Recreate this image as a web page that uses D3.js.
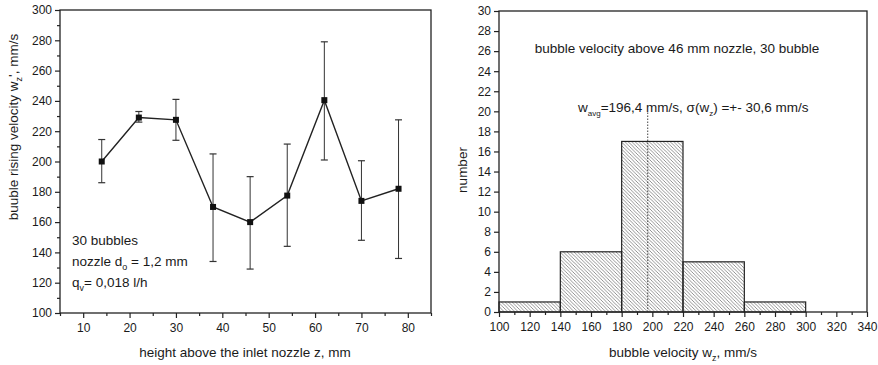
<!DOCTYPE html>
<html><head><meta charset="utf-8">
<script src="https://cdn.jsdelivr.net/npm/d3@7"></script>
<style>
body{margin:0;background:#fff;}
svg{display:block;font-family:"Liberation Sans",Arial,sans-serif;}
text{fill:#1a1a1a;}
</style></head>
<body><svg id="c" width="878" height="365"></svg>
<script>
// Left chart data
const heights = [14, 22, 30, 38, 46, 54, 62, 70, 78];
const velocity = [200, 229, 227.5, 170, 160, 177.5, 240.5, 174, 182];
const errUpper = [214.5, 233, 241, 205, 190, 211.5, 279, 200.5, 227.5];
const errLower = [186, 226, 214, 134, 129, 144, 201, 148, 136];
const leftXTicks = [10, 20, 30, 40, 50, 60, 70, 80];
const leftYTicks = [100, 120, 140, 160, 180, 200, 220, 240, 260, 280, 300];

// Right chart data
const binStart = [100, 140, 180, 220, 260];
const binEnd = [140, 180, 220, 260, 300];
const counts = [1, 6, 17, 5, 1];
const wAvg = 197;
const rightXTicks = [100, 120, 140, 160, 180, 200, 220, 240, 260, 280, 300, 320, 340];
const rightYTicks = [0, 2, 4, 6, 8, 10, 12, 14, 16, 18, 20, 22, 24, 26, 28, 30];

const svg = d3.select("#c");
const ink = "#222";

// defs: hatch
const defs = svg.append("defs");
const pat = defs.append("pattern").attr("id","hatch").attr("patternUnits","userSpaceOnUse")
  .attr("width",3.5).attr("height",3.5);
pat.append("path").attr("d","M-1,-1 L4.5,4.5 M-1,2.5 L1,4.5 M2.5,-1 L4.5,1")
  .attr("stroke","#666").attr("stroke-width",0.7);

function frame(g, x0, x1, y0, y1){
  g.append("rect").attr("x",x0).attr("y",y1).attr("width",x1-x0).attr("height",y0-y1)
   .attr("fill","none").attr("stroke",ink).attr("stroke-width",1.3);
}
function styleAxis(g){
  g.select(".domain").remove();
  g.selectAll("line").attr("stroke",ink).attr("stroke-width",1.2);
  g.selectAll("text").attr("font-size",12).attr("fill","#1a1a1a").attr("font-family","Liberation Sans, Arial, sans-serif");
}

// ===== Left chart =====
const L = {x0:60, x1:431, y0:313, y1:10};
const xL = d3.scaleLinear().domain([5,85]).range([L.x0,L.x1]);
const yL = d3.scaleLinear().domain([100,300]).range([L.y0,L.y1]);
const gL = svg.append("g");

const axLx = d3.axisBottom(xL).tickValues(leftXTicks).tickSize(5).tickPadding(5);
const axLxm = d3.axisBottom(xL).tickValues(d3.range(5,86,5).filter(v=>v%10!==0)).tickSize(3).tickFormat("");
const axLy = d3.axisLeft(yL).tickValues(leftYTicks).tickSize(5).tickPadding(3);
const axLym = d3.axisLeft(yL).tickValues(d3.range(110,300,20)).tickSize(3).tickFormat("");
[ [axLx,`translate(0,${L.y0})`],[axLxm,`translate(0,${L.y0})`],[axLy,`translate(${L.x0},0)`],[axLym,`translate(${L.x0},0)`] ]
 .forEach(([a,t])=>{ styleAxis(gL.append("g").attr("transform",t).call(a)); });
frame(gL, L.x0, L.x1, L.y0, L.y1);

// error bars
heights.forEach((h,i)=>{
  const x = xL(h);
  gL.append("line").attr("x1",x).attr("x2",x).attr("y1",yL(errUpper[i])).attr("y2",yL(errLower[i])).attr("stroke","#333").attr("stroke-width",1);
  [errUpper[i], errLower[i]].forEach(v=>{
    gL.append("line").attr("x1",x-3.5).attr("x2",x+3.5).attr("y1",yL(v)).attr("y2",yL(v)).attr("stroke","#333").attr("stroke-width",1.2);
  });
});
gL.append("path").datum(heights.map((h,i)=>[h,velocity[i]]))
  .attr("d", d3.line().x(d=>xL(d[0])).y(d=>yL(d[1])))
  .attr("fill","none").attr("stroke",ink).attr("stroke-width",1.4);
gL.selectAll("rect.pt").data(heights).enter().append("rect").attr("class","pt")
  .attr("x",(d)=>xL(d)-3).attr("y",(d,i)=>yL(velocity[i])-3).attr("width",6).attr("height",6).attr("fill","#111");

// annotation
const ann = gL.append("g").attr("font-size",13.5);
ann.append("text").attr("x",72).attr("y",245).text("30 bubbles");
const t2 = ann.append("text").attr("x",72).attr("y",266);
t2.append("tspan").text("nozzle d");
t2.append("tspan").attr("font-size",9).attr("dy",4).text("o");
t2.append("tspan").attr("dy",-4).text(" = 1,2 mm");
const t3 = ann.append("text").attr("x",72).attr("y",287);
t3.append("tspan").text("q");
t3.append("tspan").attr("font-size",9).attr("dy",4).text("v");
t3.append("tspan").attr("dy",-4).text("= 0,018 l/h");

// axis titles
gL.append("text").attr("x",245).attr("y",357).attr("text-anchor","middle").attr("font-size",13.5)
  .text("height above the inlet nozzle z, mm");
const ylt = gL.append("text").attr("transform",`translate(18,127) rotate(-90)`).attr("text-anchor","middle").attr("font-size",13.5);
ylt.append("tspan").text("buuble rising velocity w");
ylt.append("tspan").attr("font-size",9).attr("dy",4).text("z");
ylt.append("tspan").attr("dy",-4).text("', mm/s");

// ===== Right chart =====
const R = {x0:499, x1:867, y0:312, y1:11};
const xR = d3.scaleLinear().domain([100,340]).range([R.x0,R.x1]);
const yR = d3.scaleLinear().domain([0,30]).range([R.y0,R.y1]);
const gR = svg.append("g");

gR.selectAll("rect.bar").data(counts).enter().append("rect").attr("class","bar")
  .attr("x",(d,i)=>xR(binStart[i])).attr("width",(d,i)=>xR(binEnd[i])-xR(binStart[i]))
  .attr("y",d=>yR(d)).attr("height",d=>yR(0)-yR(d))
  .attr("fill","url(#hatch)").attr("stroke",ink).attr("stroke-width",1.2);

gR.append("line").attr("x1",xR(wAvg)).attr("x2",xR(wAvg)).attr("y1",yR(0)).attr("y2",yR(20))
  .attr("stroke","#444").attr("stroke-width",1).attr("stroke-dasharray","1.5,1.5");

const axRx = d3.axisBottom(xR).tickValues(rightXTicks).tickSize(5).tickPadding(5);
const axRxm = d3.axisBottom(xR).tickValues(d3.range(110,340,20)).tickSize(3).tickFormat("");
const axRy = d3.axisLeft(yR).tickValues(rightYTicks).tickSize(5).tickPadding(3);
[ [axRx,`translate(0,${R.y0})`],[axRxm,`translate(0,${R.y0})`],[axRy,`translate(${R.x0},0)`] ]
 .forEach(([a,t])=>{ styleAxis(gR.append("g").attr("transform",t).call(a)); });
frame(gR, R.x0, R.x1, R.y0, R.y1);

gR.append("text").attr("x",677).attr("y",53).attr("text-anchor","middle").attr("font-size",13.5)
  .text("bubble velocity above 46 mm nozzle, 30 bubble");
const wt = gR.append("text").attr("x",578).attr("y",112).attr("font-size",13.5);
wt.append("tspan").text("w");
wt.append("tspan").attr("font-size",8).attr("dy",4).text("avg");
wt.append("tspan").attr("dy",-4).text("=196,4 mm/s, σ(w");
wt.append("tspan").attr("font-size",8).attr("dy",4).text("z");
wt.append("tspan").attr("dy",-4).text(") =+- 30,6 mm/s");

gR.append("text").attr("x",683).attr("y",357).attr("text-anchor","middle").attr("font-size",13.5)
  .call(t=>{t.append("tspan").text("bubble velocity w");
            t.append("tspan").attr("font-size",9).attr("dy",4).text("z");
            t.append("tspan").attr("dy",-4).text(", mm/s");});
gR.append("text").attr("transform",`translate(467,170) rotate(-90)`).attr("text-anchor","middle").attr("font-size",13.5)
  .text("number");
</script></body></html>
